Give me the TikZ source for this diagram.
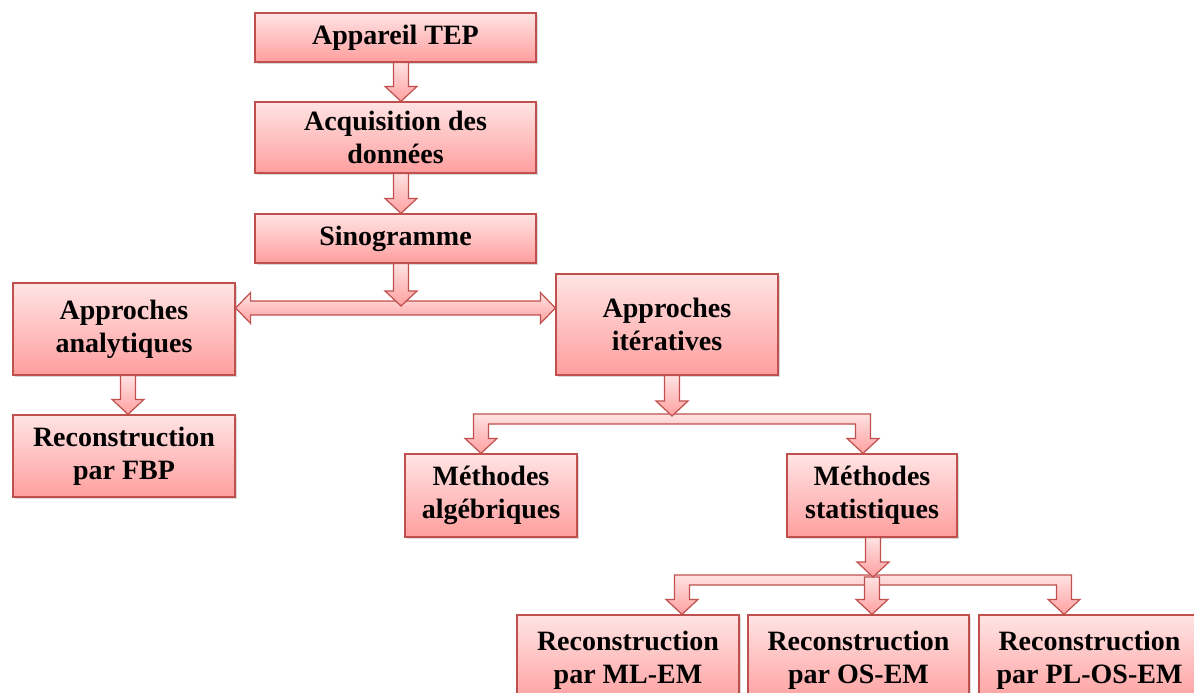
\documentclass[tikz,border=0pt]{standalone}
\usepackage{fontspec}
\setmainfont{Liberation Serif}
\usetikzlibrary{calc,shadows}

\definecolor{edge}{RGB}{192,80,77}
\definecolor{boxtop}{RGB}{255,228,228}
\definecolor{boxbot}{RGB}{255,158,158}
\definecolor{arrtop}{RGB}{255,226,226}
\definecolor{arrbot}{RGB}{255,160,160}

\tikzset{
  stepbox/.style={draw=edge, line width=1.2pt, top color=boxtop, bottom color=boxbot,
    inner sep=0pt, align=center, text=black,
    font=\bfseries\fontsize{28}{33}\selectfont,
    drop shadow={shadow xshift=1.5pt, shadow yshift=-2pt, opacity=0.25, fill=black!60}},
  blockarrow/.style={draw=edge, line width=1.2pt, top color=arrtop, bottom color=arrbot,
    line join=miter},
}

% vertical block arrow: #1 = x centre, #2 = start, #3 = tip
\newcommand\downarr[3]{%
  \draw[blockarrow] let \p1=(#2), \p2=(#3) in
    (#1pt-7.5pt,\y1) -- (#1pt-7.5pt,\y2+15pt) -- (#1pt-16pt,\y2+15pt) -- (#1pt,\y2)
    -- (#1pt+16pt,\y2+15pt) -- (#1pt+7.5pt,\y2+15pt) -- (#1pt+7.5pt,\y1) -- cycle;}

% horizontal bar feeding arrows at both ends: #1 = bar top, #2 = bar bottom,
% #3 = left arrow x, #4 = right arrow x, #5 = left target, #6 = right target
\newcommand\splitbar[6]{%
  \draw[blockarrow] let \p1=(#5), \p2=(#6) in
    (#3pt-7.5pt,-#1pt) -- (#4pt+7.5pt,-#1pt) -- (#4pt+7.5pt,\y2+15pt) -- (#4pt+16pt,\y2+15pt)
    -- (#4pt,\y2) -- (#4pt-16pt,\y2+15pt) -- (#4pt-7.5pt,\y2+15pt) -- (#4pt-7.5pt,-#2pt)
    -- (#3pt+7.5pt,-#2pt) -- (#3pt+7.5pt,\y1+15pt) -- (#3pt+16pt,\y1+15pt) -- (#3pt,\y1)
    -- (#3pt-16pt,\y1+15pt) -- (#3pt-7.5pt,\y1+15pt) -- cycle;}

\begin{document}
\begin{tikzpicture}[x=1pt, y=-1pt]
\useasboundingbox (0,0) rectangle (1194,693);

% boxes
\node[stepbox, minimum width=281pt, minimum height=49pt] (tep) at (395.5,37.5) {Appareil TEP};
\node[stepbox, minimum width=281pt, minimum height=71pt] (acq) at (395.5,137.5) {Acquisition des\\données};
\node[stepbox, minimum width=281pt, minimum height=49pt] (sino) at (395.5,238.5) {Sinogramme};
\node[stepbox, minimum width=222pt, minimum height=92pt] (ana) at (124,329) {Approches\\analytiques};
\node[stepbox, minimum width=222pt, minimum height=101pt] (ite) at (667,324.5) {Approches\\itératives};
\node[stepbox, minimum width=222pt, minimum height=82pt] (fbp) at (124,456) {Reconstruction\\par FBP};
\node[stepbox, minimum width=172pt, minimum height=83pt] (alg) at (491,495.5) {Méthodes\\algébriques};
\node[stepbox, minimum width=170pt, minimum height=83pt] (sta) at (872,495.5) {Méthodes\\statistiques};
\node[stepbox, minimum width=222pt, minimum height=90pt] (ml) at (628,660) {Reconstruction\\par ML-EM};
\node[stepbox, minimum width=221pt, minimum height=90pt] (os) at (858.5,660) {Reconstruction\\par OS-EM};
\node[stepbox, minimum width=221pt, minimum height=90pt] (pl) at (1089.5,660) {Reconstruction\\par PL-OS-EM};

% junction points on the bars
\coordinate (ibar) at (0,416);
\coordinate (sbar) at (0,577);

% arrows
\downarr{401}{tep.south}{acq.north}
\downarr{401}{acq.south}{sino.north}

\draw[blockarrow] let \p1=(ana.east), \p2=(ite.west) in
  (\x1,-308pt) -- (\x1+15pt,-292.5pt) -- (\x1+15pt,-301pt) -- (\x2-15pt,-301pt)
  -- (\x2-15pt,-292.5pt) -- (\x2,-308pt) -- (\x2-15pt,-323.5pt) -- (\x2-15pt,-315pt)
  -- (\x1+15pt,-315pt) -- (\x1+15pt,-323.5pt) -- cycle;
\coordinate (dbl) at (0,306);
\downarr{401}{sino.south}{dbl}

\downarr{128}{ana.south}{fbp.north}

\splitbar{414}{424}{481}{863}{alg.north}{sta.north}
\downarr{672}{ite.south}{ibar}

\splitbar{575}{585}{682}{1064}{ml.north}{pl.north}
\downarr{872}{sbar}{os.north}
\downarr{873}{sta.south}{sbar}
\end{tikzpicture}
\end{document}
